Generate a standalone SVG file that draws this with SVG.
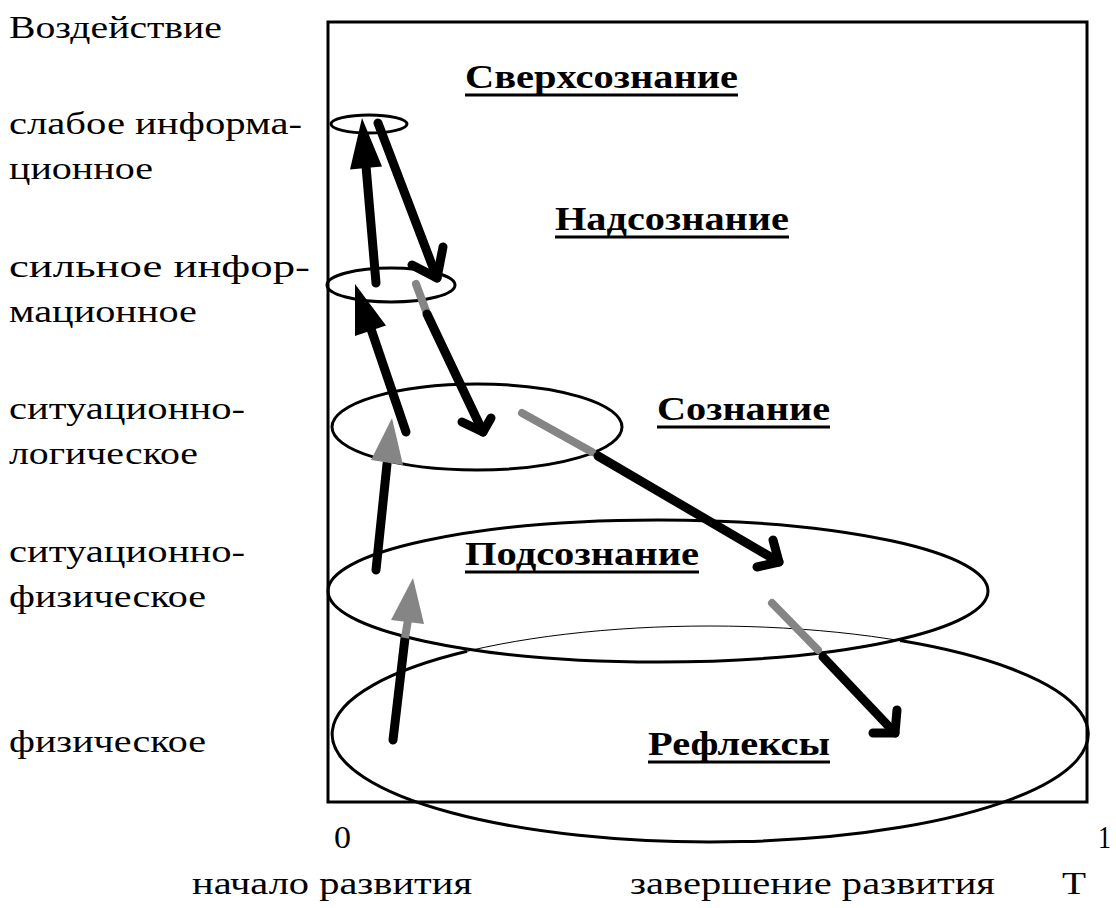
<svg xmlns="http://www.w3.org/2000/svg" width="1116" height="908" viewBox="0 0 1116 908">
<style>
.ul{stroke:#000;stroke-width:3}
.el{fill:none;stroke:#000;stroke-width:3}
.bk{fill:none;stroke:#000;stroke-width:9;stroke-linecap:round;stroke-linejoin:round}
.gr{fill:none;stroke:#858585;stroke-width:8;stroke-linecap:round}
.hb{fill:#000}
.hg{fill:#858585}
</style>
<rect width="1116" height="908" fill="#fff"/>
<g id="frame"><rect x="328" y="22" width="759" height="780" fill="none" stroke="#000" stroke-width="3"/></g>
<g id="axis-labels" font-family="Liberation Serif, serif" font-size="32" fill="#000">
<text x="9" y="38" textLength="213" lengthAdjust="spacingAndGlyphs">Воздействие</text>
<text x="9" y="134" textLength="293" lengthAdjust="spacingAndGlyphs">слабое информа-</text>
<text x="9" y="179" textLength="144" lengthAdjust="spacingAndGlyphs">ционное</text>
<text x="9" y="277" textLength="301" lengthAdjust="spacingAndGlyphs">сильное инфор-</text>
<text x="9" y="322" textLength="188" lengthAdjust="spacingAndGlyphs">мационное</text>
<text x="9" y="419" textLength="236" lengthAdjust="spacingAndGlyphs">ситуационно-</text>
<text x="9" y="464" textLength="189" lengthAdjust="spacingAndGlyphs">логическое</text>
<text x="9" y="562" textLength="236" lengthAdjust="spacingAndGlyphs">ситуационно-</text>
<text x="9" y="607" textLength="197" lengthAdjust="spacingAndGlyphs">физическое</text>
<text x="9" y="752" textLength="197" lengthAdjust="spacingAndGlyphs">физическое</text>
<text x="334" y="848" textLength="17" lengthAdjust="spacingAndGlyphs">0</text>
<text x="1098" y="848" textLength="13" lengthAdjust="spacingAndGlyphs">1</text>
<text x="192" y="894" textLength="280" lengthAdjust="spacingAndGlyphs">начало развития</text>
<text x="630" y="894" textLength="365" lengthAdjust="spacingAndGlyphs">завершение развития</text>
<text x="1062" y="894" textLength="24" lengthAdjust="spacingAndGlyphs">Т</text>
</g>
<g id="level-superconsciousness" font-family="Liberation Serif, serif" font-size="33" font-weight="bold">
<text x="465" y="88" textLength="273" lengthAdjust="spacingAndGlyphs">Сверхсознание</text>
<line class="ul" x1="465" y1="95" x2="738" y2="95"/>
</g>
<g id="level-overconsciousness" font-family="Liberation Serif, serif" font-size="33" font-weight="bold">
<text x="555" y="230" textLength="234" lengthAdjust="spacingAndGlyphs">Надсознание</text>
<line class="ul" x1="555" y1="237" x2="789" y2="237"/>
</g>
<g id="level-consciousness" font-family="Liberation Serif, serif" font-size="33" font-weight="bold">
<ellipse class="el" cx="477" cy="427" rx="145" ry="43"/>
<text x="657" y="420" textLength="173" lengthAdjust="spacingAndGlyphs">Сознание</text>
<line class="ul" x1="657" y1="427" x2="830" y2="427"/>
</g>
<g id="level-weak"><ellipse class="el" cx="369" cy="124" rx="38" ry="9"/></g>
<g id="level-strong"><ellipse class="el" cx="391" cy="285" rx="64" ry="17"/></g>
<g id="level-subconsciousness" font-family="Liberation Serif, serif" font-size="33" font-weight="bold">
<ellipse class="el" cx="658" cy="591" rx="330" ry="71"/>
<text x="465" y="565" textLength="234" lengthAdjust="spacingAndGlyphs">Подсознание</text>
<line class="ul" x1="465" y1="572" x2="699" y2="572"/>
</g>
<g id="level-reflexes" font-family="Liberation Serif, serif" font-size="33" font-weight="bold">
<ellipse cx="710" cy="734" rx="378" ry="108" fill="none" stroke="#000" stroke-width="1"/>
<path class="el" d="M467,651.3 A378,108 0 1 0 900,640.6"/>
<text x="648" y="755" textLength="182" lengthAdjust="spacingAndGlyphs">Рефлексы</text>
<line class="ul" x1="648" y1="762" x2="830" y2="762"/>
</g>
<g id="connectors">
<line class="bk" x1="376" y1="283" x2="366" y2="166"/>
<polygon class="hb" points="362,118 382,166.5 350,169.5"/>
<line class="bk" x1="378" y1="123" x2="437" y2="278"/>
<polyline class="bk" points="412,265 437,278 443,247"/>
<line class="bk" x1="406" y1="432" x2="371" y2="329"/>
<polygon class="hb" points="355,284 386,325.5 355,336"/>
<line class="gr" x1="416" y1="284" x2="426" y2="311"/>
<line class="bk" x1="427" y1="314" x2="483" y2="432"/>
<polyline class="bk" points="462,422 483,432 491,418"/>
<line class="gr" x1="522" y1="413" x2="592" y2="452"/>
<line class="bk" x1="598" y1="456" x2="779" y2="562"/>
<polyline class="bk" points="757,567 779,562 773,540"/>
<line class="gr" x1="772" y1="603" x2="818" y2="650"/>
<line class="bk" x1="823" y1="657" x2="895" y2="733"/>
<polyline class="bk" points="873,733 895,733 897,710"/>
<line class="bk" x1="376" y1="570" x2="387" y2="464"/>
<polygon class="hg" points="392,418 403,465 371,460"/>
<line class="bk" x1="393" y1="740" x2="405" y2="638"/>
<line x1="405" y1="638" x2="408" y2="620" stroke="#858585" stroke-width="8"/>
<polygon class="hg" points="413,578 424,624 391,620"/>
</g>
</svg>
